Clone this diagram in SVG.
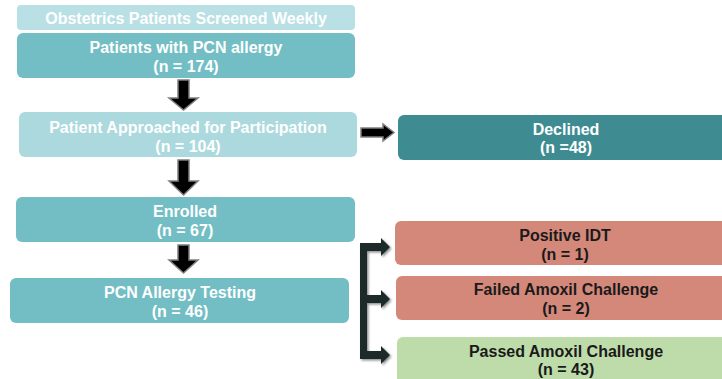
<svg xmlns="http://www.w3.org/2000/svg" width="722" height="379" viewBox="0 0 722 379">
<defs>
<style>
.t{font-family:"Liberation Sans",Arial,sans-serif;font-weight:bold;font-size:16px;text-anchor:middle;fill:#ffffff}
.d{fill:#1a1a1a}
.arr{fill:#000;stroke:#7f7f7f;stroke-width:1.5}
.br{fill:#1e2b2c}
</style>
<filter id="sh" x="-30%" y="-10%" width="160%" height="130%">
<feDropShadow dx="1.5" dy="1.5" stdDeviation="1.2" flood-color="#000" flood-opacity="0.45"/>
</filter>
</defs>
<rect width="722" height="379" fill="#fff"/>
<g id="screened">
<rect x="17" y="5" width="338" height="25" rx="4" fill="#b9e0e4"/>
<text class="t" x="186" y="24">Obstetrics Patients Screened Weekly</text>
</g>
<g id="pcn-allergy">
<rect x="17" y="33" width="338" height="45" rx="6" fill="#72bec4"/>
<text class="t" x="186" y="53">Patients with PCN allergy</text>
<text class="t" x="186" y="72">(n = 174)</text>
</g>
<g id="approached">
<rect x="19" y="112" width="338" height="45" rx="6" fill="#acd9dd"/>
<text class="t" x="188" y="133">Patient Approached for Participation</text>
<text class="t" x="188" y="152">(n = 104)</text>
</g>
<g id="declined">
<rect x="398" y="115" width="340" height="45" rx="6" fill="#3e8c91"/>
<text class="t" x="566" y="135">Declined</text>
<text class="t" x="566" y="153">(n =48)</text>
</g>
<g id="enrolled">
<rect x="16" y="197" width="339" height="45" rx="6" fill="#72bec4"/>
<text class="t" x="185" y="217">Enrolled</text>
<text class="t" x="185" y="236">(n = 67)</text>
</g>
<g id="testing">
<rect x="10" y="278" width="339" height="45" rx="6" fill="#72bec4"/>
<text class="t" x="180" y="298">PCN Allergy Testing</text>
<text class="t" x="180" y="317">(n = 46)</text>
</g>
<g id="positive-idt">
<rect x="395" y="221" width="340" height="44" rx="6" fill="#d4887a"/>
<text class="t d" x="565" y="241">Positive IDT</text>
<text class="t d" x="565" y="260">(n = 1)</text>
</g>
<g id="failed">
<rect x="396" y="276" width="340" height="44" rx="6" fill="#d4887a"/>
<text class="t d" x="566" y="295">Failed Amoxil Challenge</text>
<text class="t d" x="566" y="314">(n = 2)</text>
</g>
<g id="passed">
<rect x="397" y="337" width="340" height="50" rx="6" fill="#bddcaa"/>
<text class="t d" x="566" y="357">Passed Amoxil Challenge</text>
<text class="t d" x="566" y="375">(n = 43)</text>
</g>
<g id="connectors">
<path class="arr" d="M178 80 H189 V98 H198 L183.5 110 L169 98 H178 Z"/>
<path class="arr" d="M178 160 H189 V181 H198 L183.5 195 L169 181 H178 Z"/>
<path class="arr" d="M178 245 H189 V260 H198 L183.5 273 L169 260 H178 Z"/>
<path class="arr" d="M361 128 H383 V124 L394 132.5 L383 141 V137 H361 Z"/>
<g filter="url(#sh)">
<path class="br" d="M360 243 H381 V238 L390 247 L381 256 V251 H367 V295 H381 V290 L390 299 L381 308 V303 H367 V351 H381 V346 L390 355 L381 364 V359 H360 Z"/>
</g>
</g>
</svg>
